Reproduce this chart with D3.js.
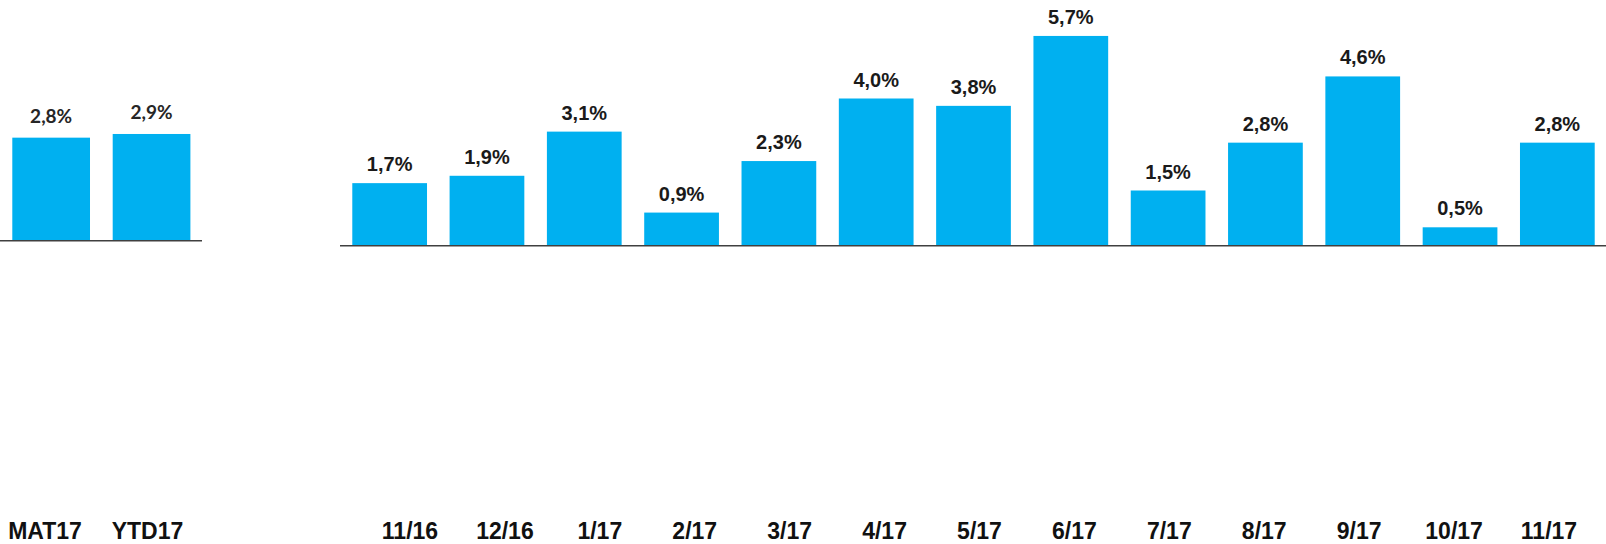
<!DOCTYPE html>
<html>
<head>
<meta charset="utf-8">
<script src="https://cdn.jsdelivr.net/npm/d3@7"></script>
<style>
  html, body { margin: 0; padding: 0; background: #fff; }
  svg { display: block; }
</style>
</head>
<body>
<div id="chart"></div>
<script>
// summary bars (left block)
const summaryCats = ['MAT17', 'YTD17'];
const summaryValues = [2.8, 2.9];

// monthly bars (right block)
const monthCats = ['11/16', '12/16', '1/17', '2/17', '3/17', '4/17', '5/17', '6/17', '7/17', '8/17', '9/17', '10/17', '11/17'];
const monthValues = [1.7, 1.9, 3.1, 0.9, 2.3, 4.0, 3.8, 5.7, 1.5, 2.8, 4.6, 0.5, 2.8];

const width = 1606, height = 544;
const barColor = '#00b0f0';

const locale = d3.formatLocale({ decimal: ',', thousands: '.', grouping: [3], currency: ['', '€'] });
const fmt = v => locale.format('.1f')(v) + '%';

const svg = d3.select('#chart').append('svg')
  .attr('width', width)
  .attr('height', height);

function drawBlock(cats, values, opts) {
  const x = d3.scaleBand()
    .domain(cats)
    .range(opts.xRange)
    .paddingInner(opts.padIn)
    .paddingOuter(opts.padOut);

  const y = d3.scaleLinear()
    .domain([0, 6])
    .range([opts.base, opts.base - 6 * 36.8]);

  const g = svg.append('g');

  g.selectAll('rect')
    .data(values)
    .join('rect')
    .attr('x', (d, i) => x(cats[i]))
    .attr('width', x.bandwidth())
    .attr('y', d => y(d))
    .attr('height', d => y(0) - y(d))
    .attr('fill', barColor);

  g.selectAll('text.val')
    .data(values)
    .join('text')
    .attr('class', 'val')
    .attr('x', (d, i) => x(cats[i]) + x.bandwidth() / 2)
    .attr('y', d => y(d) - opts.labelGap)
    .attr('text-anchor', 'middle')
    .style('font-family', opts.valFont)
    .style('font-weight', 'bold')
    .style('font-size', opts.valSize + 'px')
    .attr('fill', opts.valColor)
    .text(d => fmt(d));

  // baseline via axis domain
  const axis = d3.axisBottom(x).tickSize(0).tickSizeOuter(0).tickFormat('');
  const ax = g.append('g')
    .attr('transform', `translate(0,${opts.base})`)
    .call(axis);
  ax.select('.domain')
    .attr('stroke', '#404040')
    .attr('stroke-width', 1.6)
    .attr('d', `M${opts.lineRange[0]},0H${opts.lineRange[1]}`);

  // category labels sit in their own row at the bottom
  const xl = d3.scalePoint().domain(cats).range(opts.catRange);
  g.selectAll('text.cat')
    .data(cats)
    .join('text')
    .attr('class', 'cat')
    .attr('x', d => xl(d))
    .attr('y', 539)
    .attr('text-anchor', 'middle')
    .style('font-family', "'Liberation Sans', Arial, sans-serif")
    .style('font-weight', 'bold')
    .style('font-size', '23px')
    .attr('fill', '#111')
    .text(d => d);
}

drawBlock(summaryCats, summaryValues, {
  xRange: [0, 202.7], padIn: 0.226, padOut: 0.1225,
  base: 240.7, lineRange: [0, 202],
  labelGap: 15, valFont: "Lato, 'Open Sans', sans-serif", valSize: 19, valColor: '#262626',
  catRange: [45, 147.5]
});

drawBlock(monthCats, monthValues, {
  xRange: [341, 1606], padIn: 0.232, padOut: 0.116,
  base: 245.7, lineRange: [340, 1606],
  labelGap: 12, valFont: "'Liberation Sans', Arial, sans-serif", valSize: 20, valColor: '#1a1a1a',
  catRange: [410, 1549]
});
</script>
</body>
</html>
